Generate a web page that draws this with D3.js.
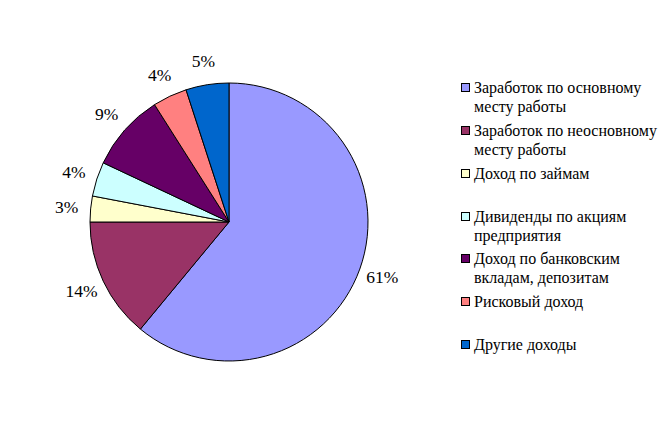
<!DOCTYPE html>
<html><head><meta charset="utf-8">
<script src="https://cdn.jsdelivr.net/npm/d3@7"></script>
<style>html,body{margin:0;padding:0;background:#fff;}</style>
</head><body>
<svg id="c" width="670" height="447"></svg>
<script>
const categories = [
  ["Заработок по основному", "месту работы"],
  ["Заработок по неосновному", "месту работы"],
  ["Доход по займам"],
  ["Дивиденды по акциям", "предприятия"],
  ["Доход по банковским", "вкладам, депозитам"],
  ["Рисковый доход"],
  ["Другие доходы"]
];
const values = [61, 14, 3, 4, 9, 4, 5];
const colors = ["#9999FF", "#993366", "#FFFFCC", "#CCFFFF", "#660066", "#FF8080", "#0066CC"];
const FONT = '"Liberation Serif", "Times New Roman", serif';

const svg = d3.select("#c");
svg.append("rect").attr("width", 670).attr("height", 447).attr("fill", "#fff");

const cx = 229, cy = 222, r = 139;
const pie = d3.pie().sort(null).value(d => d);
const arcs = pie(values);
const arc = d3.arc().innerRadius(0).outerRadius(r);
const labelArc = d3.arc().innerRadius(r + 24).outerRadius(r + 24);

const g = svg.append("g").attr("transform", `translate(${cx},${cy})`);
g.selectAll("path").data(arcs).join("path")
  .attr("d", arc)
  .attr("fill", (d, i) => colors[i])
  .attr("stroke", "#000")
  .attr("stroke-width", 1)
  .attr("stroke-linejoin", "round");

g.selectAll("text").data(arcs).join("text")
  .attr("transform", d => `translate(${labelArc.centroid(d)})`)
  .attr("text-anchor", "middle")
  .attr("dominant-baseline", "central")
  .style("font-family", FONT)
  .attr("font-size", 17.5)
  .attr("fill", "#000")
  .text(d => d.value + "%");

const legendY = [88, 131, 174, 217, 259, 302, 345];
const lg = svg.append("g");
categories.forEach((lines, i) => {
  const y = legendY[i];
  lg.append("rect").attr("x", 461.5).attr("y", y - 4.5).attr("width", 8).attr("height", 8)
    .attr("fill", colors[i]).attr("stroke", "#000").attr("stroke-width", 1);
  const t = lg.append("text")
    .style("font-family", FONT)
    .attr("font-size", 16).attr("fill", "#000");
  lines.forEach((ln, j) => {
    t.append("tspan").attr("x", 474).attr("y", y + 5 + j * 18.5).text(ln);
  });
});
</script>
</body></html>
